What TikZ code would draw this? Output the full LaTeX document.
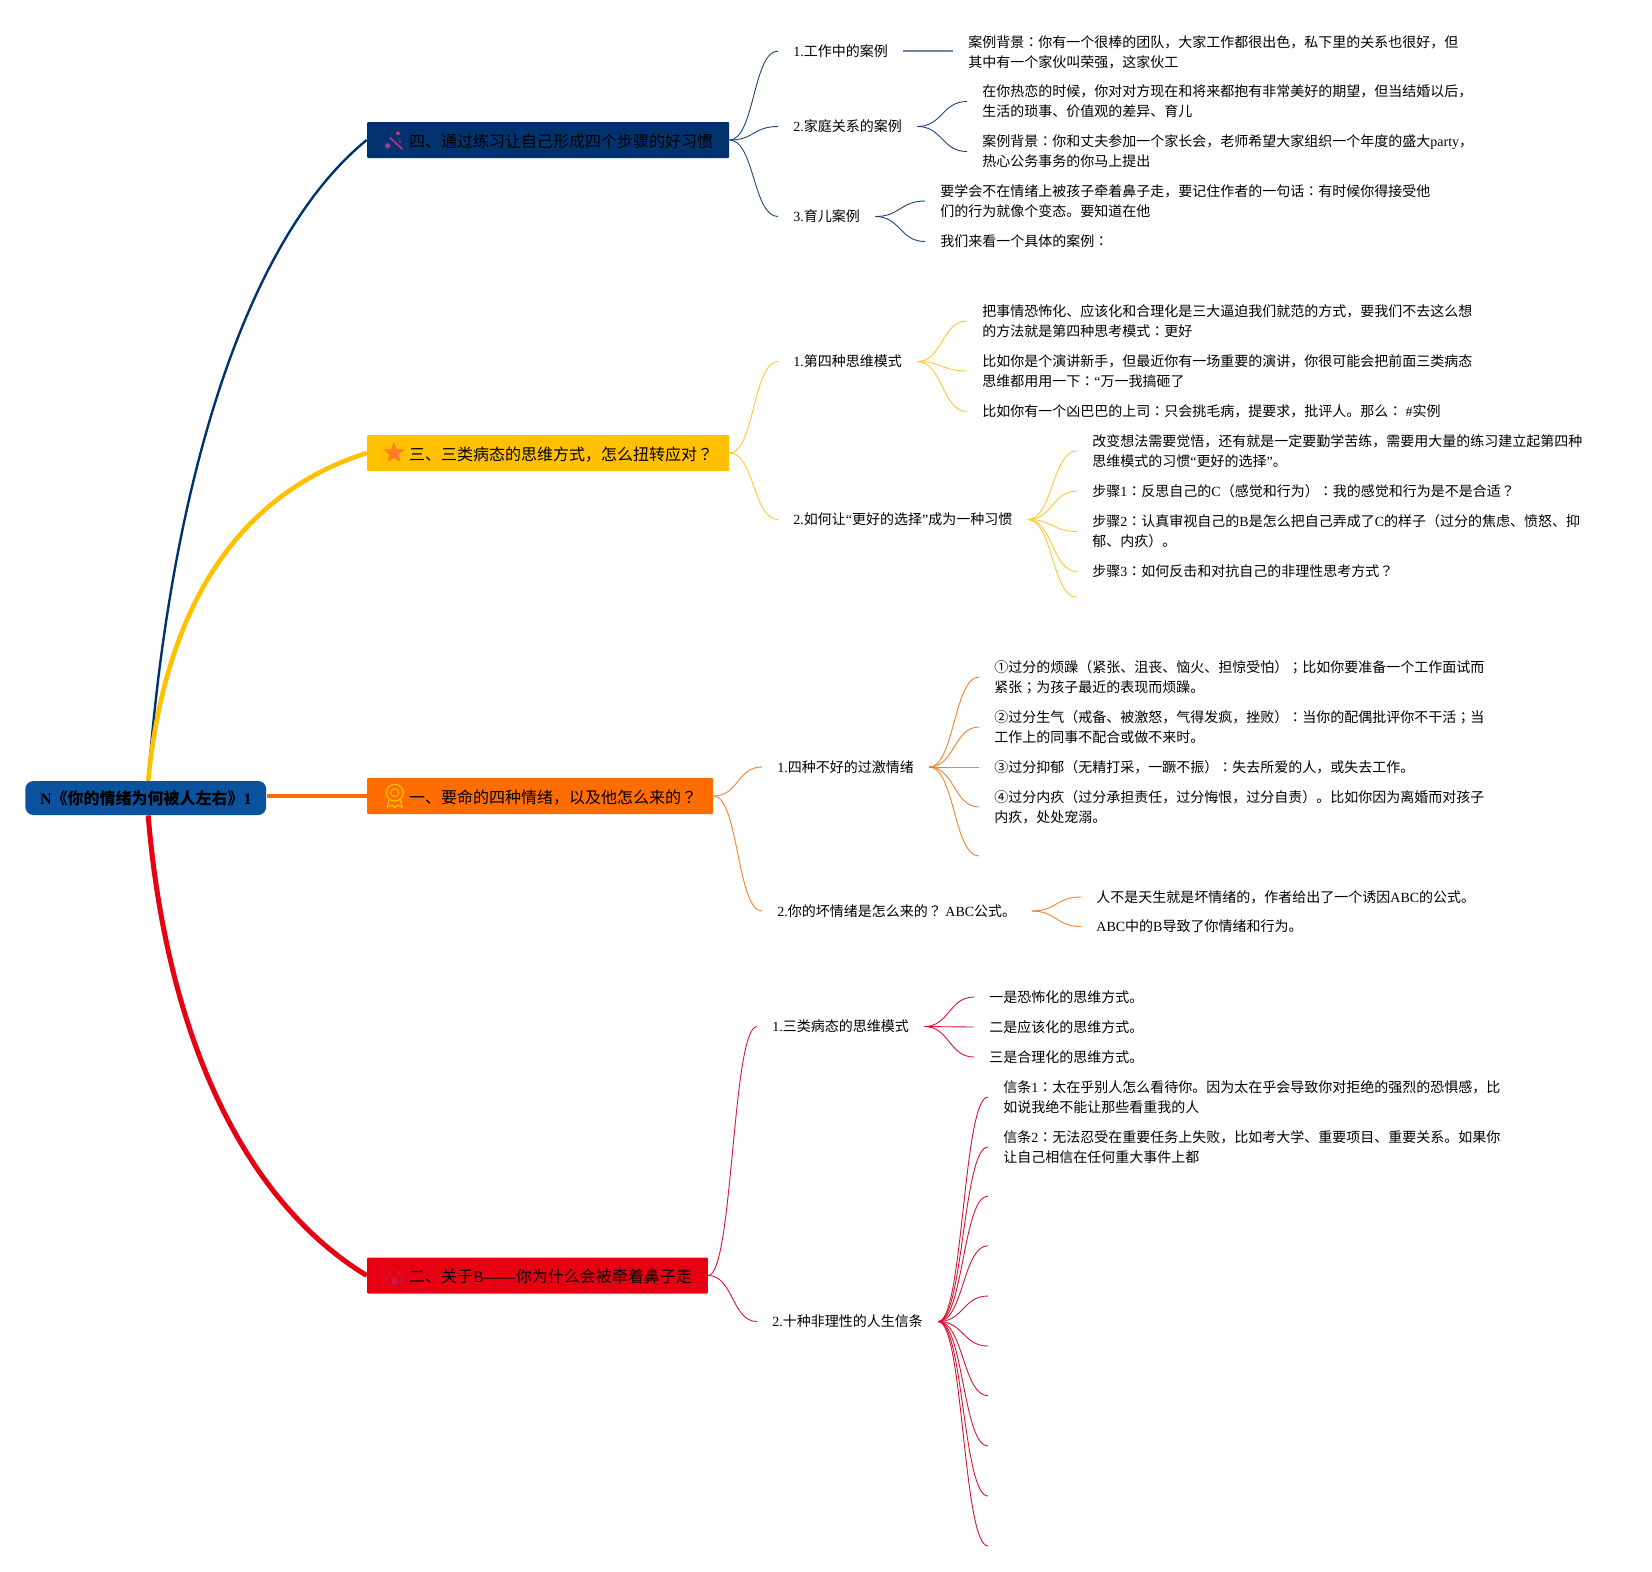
\documentclass[tikz,border=0pt]{standalone}
\usepackage{fontspec}
\usepackage{xcolor}
\usetikzlibrary{shapes.geometric}
\setmainfont{Noto Sans CJK SC}
\newfontfamily\lat{Liberation Serif}
\newfontfamily\tcfont{Noto Sans CJK TC}
\newcommand{\en}[1]{{\lat #1}}
\newcommand{\cl}{{\tcfont ：}}
\newcommand{\qm}{{\tcfont ？}}
\newcommand{\sm}{{\tcfont ；}}
\definecolor{navy}{RGB}{0,51,110}
\definecolor{rootblue}{RGB}{11,83,159}
\definecolor{amber}{RGB}{255,192,0}
\definecolor{tangerine}{RGB}{255,109,0}
\definecolor{crimson}{RGB}{230,0,18}
\definecolor{leafnavy}{RGB}{24,70,120}
\definecolor{leafamber}{RGB}{255,200,50}
\definecolor{leaforange}{RGB}{240,130,50}
\definecolor{leafred}{RGB}{215,20,50}
\definecolor{houseicon}{RGB}{205,25,65}
\tikzset{
  rootbox/.style={draw=none, fill=rootblue, rounded corners=4pt, anchor=west, inner xsep=7.3pt, minimum height=17pt, font=\fontsize{8}{10}\selectfont\bfseries},
  topic/.style={draw=none, fill=#1, rounded corners=0.5pt, anchor=west, inner xsep=8pt, text height=7.2pt, text depth=0pt, minimum height=18pt, font=\fontsize{8}{10}\selectfont, execute at begin node={\hspace*{13pt}}},
  leaf/.style={anchor=west, inner xsep=7.5pt, inner ysep=0pt, align=left, font=\fontsize{7}{10}\selectfont},
  thin4/.style={draw=leafnavy, line width=0.45pt},
  thin3/.style={draw=leafamber, line width=0.45pt},
  thin1/.style={draw=leaforange, line width=0.45pt},
  thin2/.style={draw=leafred, line width=0.45pt}
}
\begin{document}
\begin{tikzpicture}[x=0.5pt, y=-0.5pt]
\useasboundingbox (0,0) rectangle (1652,1571);
\node[rootbox] (r) at (25,798) {\en{N}《你的情绪为何被人左右》\en{1}};
\node[topic=navy, minimum width=180.6pt] (t4) at (366.7,140) {四、通过练习让自己形成四个步骤的好习惯};
\node[topic=amber, minimum width=180.6pt] (t3) at (366.7,453) {三、三类病态的思维方式，怎么扭转应对\qm};
\node[topic=tangerine, minimum width=172.8pt] (t1) at (366.7,796) {一、要命的四种情绪，以及他怎么来的\qm};
\node[topic=crimson, minimum width=169.9pt] (t2) at (366.7,1275.5) {二、关于\en{B——}你为什么会被牵着鼻子走};
\draw[navy, line width=1.2pt] ([xshift=1.2pt]r.north) .. controls (172,470) and (250,235) .. (t4.west);
\draw[amber, line width=2.3pt] ([xshift=1.2pt]r.north) .. controls (165,610) and (235,495) .. (t3.west);
\draw[tangerine, line width=1.6pt] (r.east |- t1.west) -- (t1.west);
\draw[crimson, line width=2.5pt] ([xshift=1.2pt]r.south) .. controls (165,1020) and (235,1195) .. (t2.west);
\draw[draw=magenta!70!black, line width=0.8pt] (390,137.7) -- (402.3,149);
\filldraw[magenta!70!black, draw=none] (387.7,145.7) circle (1.3pt);
\filldraw[magenta!70!black, draw=none] (398,133.3) circle (1pt);
\filldraw[magenta!70!black, draw=none] (400,141.7) circle (0.6pt);
\node[star, star points=5, star point ratio=2.3, fill=orange!80!red!85!white, minimum size=11pt, inner sep=0pt] (s3) at (394,453) {};
\draw[amber, line width=0.6pt] (394.7,792.7) circle (4.2pt);
\draw[amber, line width=0.5pt] (394.7,792.7) circle (2pt);
\draw[amber, line width=0.6pt] (389,800) -- (387.5,807) -- (392,805) -- (394.7,807.5) -- (397.5,805) -- (402,807) -- (400.5,800);
\draw[houseicon, line width=0.4pt] (386.5,1276) -- (394.5,1268) -- (402.5,1276) -- (402.5,1284) -- (386.5,1284) -- cycle;
\filldraw[houseicon, draw=none] (392,1278) rectangle (397,1284);
\node[leaf] (n1) at (778,51) {\en{1.}工作中的案例};
\node[leaf] (n2) at (778,126.5) {\en{2.}家庭关系的案例};
\node[leaf] (n3) at (778,216.5) {\en{3.}育儿案例};
\draw[thin4] (t4.east) .. controls +(25,0) and +(-25,0) .. (n1.west);
\draw[thin4] (t4.east) .. controls +(25,0) and +(-25,0) .. (n2.west);
\draw[thin4] (t4.east) .. controls +(25,0) and +(-25,0) .. (n3.west);
\node[leaf] (n1a) at (953,52) {案例背景\cl 你有一个很棒的团队，大家工作都很出色，私下里的关系也很好，但\\其中有一个家伙叫荣强，这家伙工};
\node[leaf] (n2a) at (967,101.5) {在你热恋的时候，你对对方现在和将来都抱有非常美好的期望，但当结婚以后，\\生活的琐事、价值观的差异、育儿};
\node[leaf] (n2b) at (967,151.5) {案例背景\cl 你和丈夫参加一个家长会，老师希望大家组织一个年度的盛大\en{party}，\\热心公务事务的你马上提出};
\node[leaf] (n3a) at (925,201) {要学会不在情绪上被孩子牵着鼻子走，要记住作者的一句话\cl 有时候你得接受他\\们的行为就像个变态。要知道在他};
\node[leaf] (n3b) at (925,241.5) {我们来看一个具体的案例\cl};
\draw[thin4, draw=leafnavy!65, line width=0.8pt] (n1.east) -- (n1.east -| n1a.west);
\draw[thin4] (n2.east) .. controls +(25,0) and +(-25,0) .. (n2a.west);
\draw[thin4] (n2.east) .. controls +(25,0) and +(-25,0) .. (n2b.west);
\draw[thin4] (n3.east) .. controls +(25,0) and +(-25,0) .. (n3a.west);
\draw[thin4] (n3.east) .. controls +(25,0) and +(-25,0) .. (n3b.west);
\node[leaf] (y1) at (778,361.5) {\en{1.}第四种思维模式};
\node[leaf] (y2) at (778,519.5) {\en{2.}如何让\en{“}更好的选择\en{”}成为一种习惯};
\draw[thin3] (t3.east) .. controls +(25,0) and +(-25,0) .. (y1.west);
\draw[thin3] (t3.east) .. controls +(25,0) and +(-25,0) .. (y2.west);
\node[leaf] (y1a) at (967,321) {把事情恐怖化、应该化和合理化是三大逼迫我们就范的方式，要我们不去这么想\\的方法就是第四种思考模式\cl 更好};
\node[leaf] (y1b) at (967,371) {比如你是个演讲新手，但最近你有一场重要的演讲，你很可能会把前面三类病态\\思维都用用一下\cl\en{“}万一我搞砸了};
\node[leaf] (y1c) at (967,411.5) {比如你有一个凶巴巴的上司\cl 只会挑毛病，提要求，批评人。那么\cl\ \en{\#}实例};
\draw[thin3] (y1.east) .. controls +(25,0) and +(-25,0) .. (y1a.west);
\draw[thin3] (y1.east) .. controls +(25,0) and +(-25,0) .. (y1b.west);
\draw[thin3] (y1.east) .. controls +(25,0) and +(-25,0) .. (y1c.west);
\node[leaf] (y2a) at (1077,451) {改变想法需要觉悟，还有就是一定要勤学苦练，需要用大量的练习建立起第四种\\思维模式的习惯\en{“}更好的选择\en{”}。};
\node[leaf] (y2b) at (1077,491) {步骤\en{1}\cl 反思自己的\en{C}（感觉和行为）\cl 我的感觉和行为是不是合适\qm};
\node[leaf] (y2c) at (1077,531.5) {步骤\en{2}\cl 认真审视自己的\en{B}是怎么把自己弄成了\en{C}的样子（过分的焦虑、愤怒、抑\\郁、内疚）。};
\node[leaf] (y2d) at (1077,571.5) {步骤\en{3}\cl 如何反击和对抗自己的非理性思考方式\qm};
\coordinate (y2e) at (1077,597.3);
\draw[thin3] (y2.east) .. controls +(25,0) and +(-25,0) .. (y2a.west);
\draw[thin3] (y2.east) .. controls +(25,0) and +(-25,0) .. (y2b.west);
\draw[thin3] (y2.east) .. controls +(25,0) and +(-25,0) .. (y2c.west);
\draw[thin3] (y2.east) .. controls +(25,0) and +(-25,0) .. (y2d.west);
\draw[thin3] (y2.east) .. controls +(25,0) and +(-25,0) .. (y2e);
\node[leaf] (o1) at (762,767) {\en{1.}四种不好的过激情绪};
\node[leaf] (o2) at (762,911) {\en{2.}你的坏情绪是怎么来的\qm\en{ ABC}公式。};
\draw[thin1] (t1.east) .. controls +(25,0) and +(-25,0) .. (o1.west);
\draw[thin1] (t1.east) .. controls +(25,0) and +(-25,0) .. (o2.west);
\node[leaf] (o1a) at (979,677) {①过分的烦躁（紧张、沮丧、恼火、担惊受怕）\sm 比如你要准备一个工作面试而\\紧张\sm 为孩子最近的表现而烦躁。};
\node[leaf] (o1b) at (979,727) {②过分生气（戒备、被激怒，气得发疯，挫败）\cl 当你的配偶批评你不干活\sm 当\\工作上的同事不配合或做不来时。};
\node[leaf] (o1c) at (979,767) {③过分抑郁（无精打采，一蹶不振）\cl 失去所爱的人，或失去工作。};
\node[leaf] (o1d) at (979,807) {④过分内疚（过分承担责任，过分悔恨，过分自责）。比如你因为离婚而对孩子\\内疚，处处宠溺。};
\coordinate (o1e) at (979,856);
\draw[thin1] (o1.east) .. controls +(25,0) and +(-25,0) .. (o1a.west);
\draw[thin1] (o1.east) .. controls +(25,0) and +(-25,0) .. (o1b.west);
\draw[thin1] (o1.east) .. controls +(25,0) and +(-25,0) .. (o1c.west);
\draw[thin1] (o1.east) .. controls +(25,0) and +(-25,0) .. (o1d.west);
\draw[thin1] (o1.east) .. controls +(25,0) and +(-25,0) .. (o1e);
\node[leaf] (o2a) at (1081,897) {人不是天生就是坏情绪的，作者给出了一个诱因\en{ABC}的公式。};
\node[leaf] (o2b) at (1081,926.5) {\en{ABC}中的\en{B}导致了你情绪和行为。};
\draw[thin1] (o2.east) .. controls +(25,0) and +(-25,0) .. (o2a.west);
\draw[thin1] (o2.east) .. controls +(25,0) and +(-25,0) .. (o2b.west);
\node[leaf] (c1) at (757,1026.5) {\en{1.}三类病态的思维模式};
\node[leaf] (c2) at (757,1321.5) {\en{2.}十种非理性的人生信条};
\draw[thin2] (t2.east) .. controls +(25,0) and +(-25,0) .. (c1.west);
\draw[thin2] (t2.east) .. controls +(25,0) and +(-25,0) .. (c2.west);
\node[leaf] (c1a) at (974,997) {一是恐怖化的思维方式。};
\node[leaf] (c1b) at (974,1027) {二是应该化的思维方式。};
\node[leaf] (c1c) at (974,1057) {三是合理化的思维方式。};
\draw[thin2] (c1.east) .. controls +(25,0) and +(-25,0) .. (c1a.west);
\draw[thin2] (c1.east) .. controls +(25,0) and +(-25,0) .. (c1b.west);
\draw[thin2] (c1.east) .. controls +(25,0) and +(-25,0) .. (c1c.west);
\node[leaf] (c2a) at (988,1097) {信条\en{1}\cl 太在乎别人怎么看待你。因为太在乎会导致你对拒绝的强烈的恐惧感，比\\如说我绝不能让那些看重我的人};
\node[leaf] (c2b) at (988,1147) {信条\en{2}\cl 无法忍受在重要任务上失败，比如考大学、重要项目、重要关系。如果你\\让自己相信在任何重大事件上都};
\coordinate (c2c) at (988,1196);
\coordinate (c2d) at (988,1245.7);
\coordinate (c2e) at (988,1296);
\coordinate (c2f) at (988,1346);
\coordinate (c2g) at (988,1395.7);
\coordinate (c2h) at (988,1446);
\coordinate (c2i) at (988,1496);
\coordinate (c2j) at (988,1546);
\draw[thin2] (c2.east) .. controls +(25,0) and +(-25,0) .. (c2a.west);
\draw[thin2] (c2.east) .. controls +(25,0) and +(-25,0) .. (c2b.west);
\draw[thin2] (c2.east) .. controls +(25,0) and +(-25,0) .. (c2c);
\draw[thin2] (c2.east) .. controls +(25,0) and +(-25,0) .. (c2d);
\draw[thin2] (c2.east) .. controls +(25,0) and +(-25,0) .. (c2e);
\draw[thin2] (c2.east) .. controls +(25,0) and +(-25,0) .. (c2f);
\draw[thin2] (c2.east) .. controls +(25,0) and +(-25,0) .. (c2g);
\draw[thin2] (c2.east) .. controls +(25,0) and +(-25,0) .. (c2h);
\draw[thin2] (c2.east) .. controls +(25,0) and +(-25,0) .. (c2i);
\draw[thin2] (c2.east) .. controls +(25,0) and +(-25,0) .. (c2j);
\end{tikzpicture}
\end{document}
